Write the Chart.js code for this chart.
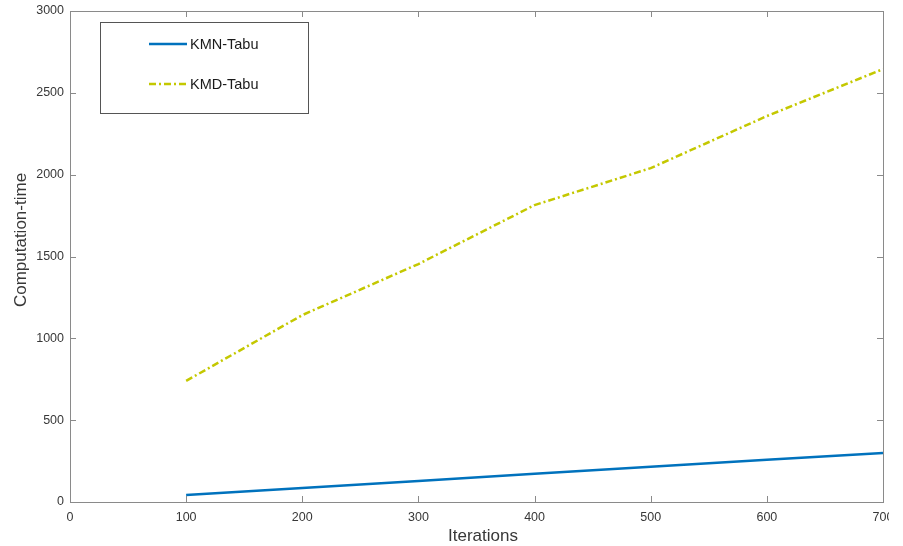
<!DOCTYPE html>
<html>
<head>
<meta charset="utf-8">
<script src="https://cdn.jsdelivr.net/npm/chart.js@4/dist/chart.umd.min.js"></script>
<style>
html,body{margin:0;padding:0;background:#fff;overflow:hidden;}
#wrap{position:relative;width:889px;height:546px;}
</style>
</head>
<body>
<div id="wrap"><canvas id="c"></canvas></div>
<script>
const iterations = [100, 200, 300, 400, 500, 600, 700];
const kmnTabu = [43, 86, 129, 172, 215, 258, 300];
const kmdTabu = [740, 1142, 1454, 1814, 2040, 2358, 2645];
const seriesNames = ['KMN-Tabu', 'KMD-Tabu'];
const xTitle = 'Iterations';
const yTitle = 'Computation-time';

const FONT = '"Liberation Sans", Arial, Helvetica, sans-serif';
const AXIS = '#8a8a8a';
const TXT = '#383838';

const boxPlugin = {
  id: 'matlabBox',
  afterDraw(chart) {
    const {ctx, chartArea: a, scales} = chart;
    ctx.save();
    ctx.strokeStyle = AXIS;
    ctx.lineWidth = 1;
    ctx.strokeRect(Math.round(a.left) + 0.5, Math.round(a.top) + 0.5, Math.round(a.right - a.left), Math.round(a.bottom - a.top));
    const tl = 6;
    ctx.beginPath();
    scales.x.ticks.forEach(t => {
      const px = Math.round(scales.x.getPixelForValue(t.value)) + 0.5;
      ctx.moveTo(px, a.bottom); ctx.lineTo(px, a.bottom - tl);
      ctx.moveTo(px, a.top); ctx.lineTo(px, a.top + tl);
    });
    scales.y.ticks.forEach(t => {
      const py = Math.round(scales.y.getPixelForValue(t.value)) + 0.5;
      ctx.moveTo(a.left, py); ctx.lineTo(a.left + tl, py);
      ctx.moveTo(a.right, py); ctx.lineTo(a.right - tl, py);
    });
    ctx.stroke();

    // axis titles
    ctx.fillStyle = TXT;
    ctx.font = '17px ' + FONT;
    ctx.textAlign = 'center';
    ctx.textBaseline = 'middle';
    ctx.fillText(xTitle, 483, 536);
    ctx.save();
    ctx.translate(21, 240);
    ctx.rotate(-Math.PI / 2);
    ctx.fillText(yTitle, 0, 0);
    ctx.restore();

    // legend
    const lx = 100, ly = 22, lw = 208, lh = 91;
    ctx.fillStyle = '#fff';
    ctx.fillRect(lx, ly, lw, lh);
    ctx.strokeStyle = '#555';
    ctx.lineWidth = 1;
    ctx.strokeRect(lx + 0.5, ly + 0.5, lw, lh);
    const rows = [44, 84];
    chart.data.datasets.forEach((ds, i) => {
      const y = rows[i];
      ctx.strokeStyle = ds.borderColor;
      ctx.lineWidth = ds.borderWidth;
      ctx.setLineDash(ds.borderDash || []);
      ctx.beginPath();
      ctx.moveTo(149, y); ctx.lineTo(187, y);
      ctx.stroke();
      ctx.setLineDash([]);
      ctx.fillStyle = '#1a1a1a';
      ctx.font = '14.5px ' + FONT;
      ctx.textAlign = 'left';
      ctx.textBaseline = 'middle';
      ctx.fillText(ds.label, 190, y + 1);
    });
    ctx.restore();
  }
};

new Chart(document.getElementById('c'), {
  type: 'line',
  data: {
    datasets: [
      {
        label: seriesNames[0],
        data: iterations.map((x, i) => ({x: x, y: kmnTabu[i]})),
        borderColor: '#0072BD',
        borderWidth: 2.5,
        pointRadius: 0,
        tension: 0,
        fill: false
      },
      {
        label: seriesNames[1],
        data: iterations.map((x, i) => ({x: x, y: kmdTabu[i]})),
        borderColor: '#c4c800',
        borderWidth: 2.5,
        borderDash: [7, 3, 2, 3],
        pointRadius: 0,
        tension: 0,
        fill: false
      }
    ]
  },
  options: {
    responsive: true,
    maintainAspectRatio: false,
    animation: false,
    layout: {padding: {top: 11, right: 6, left: 0, bottom: 0}},
    plugins: {legend: {display: false}, tooltip: {enabled: false}},
    scales: {
      x: {
        type: 'linear',
        min: 0, max: 700,
        grid: {display: false, drawTicks: false},
        border: {display: false},
        ticks: {stepSize: 100, padding: 8, color: TXT, font: {family: FONT, size: 12.5}, maxRotation: 0,
                callback: v => String(v)},
        afterFit(s) { s.height = 44; s.paddingLeft = 0; s.paddingRight = 0; }
      },
      y: {
        type: 'linear',
        min: 0, max: 3000,
        grid: {display: false, drawTicks: false},
        border: {display: false},
        ticks: {stepSize: 500, padding: 6, color: TXT, font: {family: FONT, size: 12.5},
                callback: v => String(v)},
        afterFit(s) { s.width = 70; s.paddingTop = 0; s.paddingBottom = 0; }
      }
    }
  },
  plugins: [boxPlugin]
});
</script>
</body>
</html>
